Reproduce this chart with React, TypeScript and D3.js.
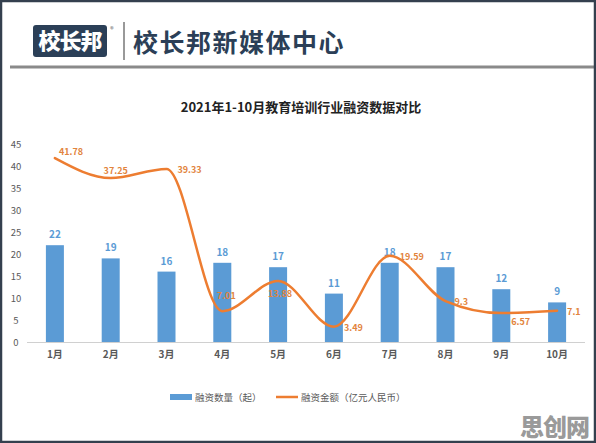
import React from "react";
import * as d3 from "d3";

const months = ["1月", "2月", "3月", "4月", "5月", "6月", "7月", "8月", "9月", "10月"];
const dealCounts = [22, 19, 16, 18, 17, 11, 18, 17, 12, 9];
const amounts = [41.78, 37.25, 39.33, 7.01, 13.88, 3.49, 19.59, 9.3, 6.57, 7.1];
const yTicks = [0, 5, 10, 15, 20, 25, 30, 35, 40, 45];
const seriesNames = ["融资数量（起）", "融资金额（亿元人民币）"];
const chartTitle = "2021年1-10月教育培训行业融资数据对比";

// label placement for line data labels (dx, dy, anchor)
const lineLabelPos: [number, number, string][] = [
  [4, -3, "start"],
  [5, -4, "middle"],
  [11, 4, "start"],
  [4, -12, "middle"],
  [2, 16, "middle"],
  [10, 4, "start"],
  [10, 4, "start"],
  [9, 4, "start"],
  [10, 12, "start"],
  [10, 4, "start"],
];

const W = 596;
const H = 443;
const BLUE = "#5b9bd5";
const ORANGE = "#ed7d31";
const ORANGE_TXT = "#e2843d";
const NAVY = "#2b3f57";

export default function App() {
  const x = d3.scaleBand<string>().domain(months).range([27, 585]).paddingInner(0).paddingOuter(0);
  const y = d3.scaleLinear().domain([0, 45]).range([342, 144]);
  const barW = 18;
  const cx = (m: string) => (x(m) as number) + x.bandwidth() / 2;

  const linePts: [number, number][] = amounts.map((v, i) => [cx(months[i]), y(v)]);
  const linePath = d3.line().curve(d3.curveMonotoneX)(linePts) as string;

  const font = "'Noto Sans CJK SC', 'Noto Sans', sans-serif";

  return (
    <svg
      width={W}
      height={H}
      style={{ position: "absolute", left: 0, top: 0, background: "#fff" }}
      fontFamily={font}
    >
      <rect x={0} y={0} width={W} height={H} fill="#fff" />
      {/* header */}
      <rect x={33} y={25} width={74} height={32} rx={3} fill={NAVY} />
      <text x={70} y={49} textAnchor="middle" fill="#fff" fontSize={22} fontWeight={900} letterSpacing={-1}>
        校长邦
      </text>
      <text x={112} y={32} textAnchor="middle" fill="#555" fontSize={7}>
        ®
      </text>
      <line x1={124} x2={124} y1={22} y2={60} stroke="#555" strokeWidth={1.2} />
      <text x={133} y={52} fill={NAVY} fontSize={25} fontWeight={700} letterSpacing={1.5}>
        校长邦新媒体中心
      </text>
      <line x1={10} x2={W} y1={67} y2={67} stroke="#8a8a8a" strokeWidth={3} />

      {/* title */}
      <text x={301} y={112} textAnchor="middle" fontSize={13} fontWeight={700} fill="#222">
        {chartTitle}
      </text>

      {/* y axis labels */}
      {yTicks.map((t) => (
        <text key={t} x={16} y={y(t) + 3.5} textAnchor="middle" fontSize={9.5} fill="#595959">
          {t}
        </text>
      ))}

      {/* bars */}
      {dealCounts.map((v, i) => (
        <g key={i}>
          <rect x={cx(months[i]) - barW / 2} y={y(v)} width={barW} height={y(0) - y(v)} fill={BLUE} />
          <text x={cx(months[i])} y={y(v) - 7} textAnchor="middle" fontSize={10} fontWeight={700} fill={BLUE}>
            {v}
          </text>
        </g>
      ))}

      {/* x axis */}
      <line x1={27} x2={585} y1={342.5} y2={342.5} stroke="#d0d0d0" strokeWidth={1} />
      {months.map((m) => (
        <text key={m} x={cx(m)} y={358} textAnchor="middle" fontSize={10} fontWeight={700} fill="#595959">
          {m}
        </text>
      ))}

      {/* line */}
      <path d={linePath} fill="none" stroke={ORANGE} strokeWidth={2.5} strokeLinecap="round" />
      {amounts.map((v, i) => {
        const [dx, dy, anchor] = lineLabelPos[i];
        return (
          <text
            key={i}
            x={linePts[i][0] + dx}
            y={linePts[i][1] + dy}
            textAnchor={anchor as any}
            fontSize={9}
            fontWeight={700}
            fill={ORANGE_TXT}
          >
            {v}
          </text>
        );
      })}

      {/* legend */}
      <rect x={170} y={394} width={22} height={6} fill={BLUE} />
      <text x={195} y={400.5} fontSize={9.5} fill="#595959">
        {seriesNames[0]}
      </text>
      <line x1={276} x2={298} y1={397} y2={397} stroke={ORANGE} strokeWidth={2.5} />
      <text x={301} y={400.5} fontSize={9.5} fill="#595959">
        {seriesNames[1]}
      </text>

      {/* watermark */}
      <text x={589} y={436} textAnchor="end" fontSize={24} fontWeight={900} fill="#9a9a9a" letterSpacing={-1}>
        思创网
      </text>

      {/* frame */}
      <rect x={1} y={1} width={W - 2} height={H - 2} fill="none" stroke="#34404e" strokeWidth={2.5} />
    </svg>
  );
}
